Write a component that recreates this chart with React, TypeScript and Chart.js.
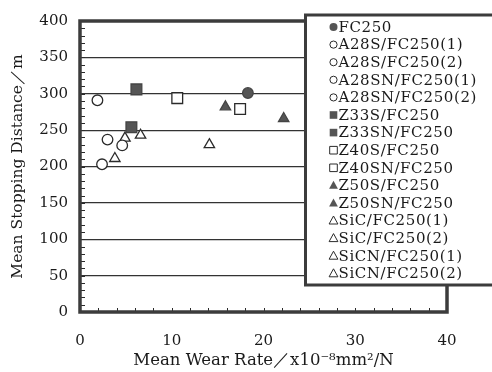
import React, { useEffect, useRef } from 'react';
import { Chart, registerables } from 'chart.js';

Chart.register(...registerables);

const seriesNames = [
  'FC250',
  'A28S/FC250(1)',
  'A28S/FC250(2)',
  'A28SN/FC250(1)',
  'A28SN/FC250(2)',
  'Z33S/FC250',
  'Z33SN/FC250',
  'Z40S/FC250',
  'Z40SN/FC250',
  'Z50S/FC250',
  'Z50SN/FC250',
  'SiC/FC250(1)',
  'SiC/FC250(2)',
  'SiCN/FC250(1)',
  'SiCN/FC250(2)',
];

// Mean wear rate (x10^-8 mm^2/N)
const wearRate = [18.3, 1.9, 2.4, 3.0, 4.6, 6.15, 5.6, 10.6, 17.45, 15.85, 22.2, 3.8, 4.9, 6.6, 14.1];
// Mean stopping distance (m)
const stoppingDistance = [301, 291, 203, 237, 229, 306, 254, 294, 279, 282, 266, 211, 239, 243, 230];

const xTicks = [0, 10, 20, 30, 40];
const yTicks = [0, 50, 100, 150, 200, 250, 300, 350, 400];

// marker kind per series: shape + filled
const markerShape = ['circle', 'circle', 'circle', 'circle', 'circle', 'rect', 'rect', 'rect', 'rect', 'triangle', 'triangle', 'triangle', 'triangle', 'triangle', 'triangle'];
const markerFilled = [true, false, false, false, false, true, true, false, false, true, true, false, false, false, false];

const FONT = '"DejaVu Serif", "Liberation Serif", serif';
const INK = '#2a2a2a';
const FILL = '#555555';

function radiusFor(shape: string) {
  if (shape === 'rect') return 7.6;
  if (shape === 'triangle') return 6;
  return 5.3;
}

const framePlugin = {
  id: 'frameAndLegend',
  afterDraw(chart: any) {
    const ctx: CanvasRenderingContext2D = chart.ctx;
    const { left, top, right, bottom } = chart.chartArea;
    const xs = chart.scales.x;
    const ys = chart.scales.y;
    ctx.save();
    // minor ticks
    ctx.strokeStyle = INK;
    ctx.lineWidth = 1;
    for (let v = 0; v <= 400; v += 10) {
      const py = Math.round(ys.getPixelForValue(v)) + 0.5;
      ctx.beginPath();
      ctx.moveTo(left, py);
      ctx.lineTo(left + 5, py);
      ctx.stroke();
    }
    for (let v = 0; v <= 40; v += 2) {
      const px = Math.round(xs.getPixelForValue(v)) + 0.5;
      ctx.beginPath();
      ctx.moveTo(px, bottom);
      ctx.lineTo(px, bottom - 4);
      ctx.stroke();
    }
    // frame
    ctx.strokeStyle = '#3c3c3c';
    ctx.lineWidth = 3.5;
    ctx.strokeRect(left, top, right - left, bottom - top);

    // legend box
    const lx = 305.5;
    const ly = 15;
    const lw = 200;
    const lh = 270;
    ctx.fillStyle = '#ffffff';
    ctx.fillRect(lx, ly, lw, lh);
    ctx.strokeStyle = '#3c3c3c';
    ctx.lineWidth = 3;
    ctx.strokeRect(lx, ly, lw, lh);

    ctx.font = '15px ' + FONT;
    (ctx as any).letterSpacing = '0.6px';
    ctx.textBaseline = 'middle';
    ctx.textAlign = 'left';
    const step = 17.6;
    seriesNames.forEach((name, i) => {
      const cy = 27 + i * step;
      const cx = 333.5;
      const shape = markerShape[i];
      const filled = markerFilled[i];
      ctx.beginPath();
      if (shape === 'circle') {
        ctx.arc(cx, cy, filled ? 4 : 3.6, 0, Math.PI * 2);
      } else if (shape === 'rect') {
        ctx.rect(cx - 3.8, cy - 3.8, 7.6, 7.6);
      } else {
        ctx.moveTo(cx, cy - 4.6);
        ctx.lineTo(cx + 4.4, cy + 3.4);
        ctx.lineTo(cx - 4.4, cy + 3.4);
        ctx.closePath();
      }
      if (filled) {
        ctx.fillStyle = FILL;
        ctx.fill();
      } else {
        ctx.strokeStyle = INK;
        ctx.lineWidth = 1;
        ctx.stroke();
      }
      ctx.fillStyle = '#1a1a1a';
      ctx.fillText(name, 338.5, cy + 1);
    });
    ctx.restore();
  },
};

export default function App() {
  const ref = useRef<HTMLCanvasElement | null>(null);
  useEffect(() => {
    if (!ref.current) return;
    const datasets = seriesNames.map((name, i) => ({
      label: name,
      data: [{ x: wearRate[i], y: stoppingDistance[i] }],
      pointStyle: markerShape[i],
      pointRadius: radiusFor(markerShape[i]),
      pointBackgroundColor: markerFilled[i] ? FILL : '#ffffff',
      pointBorderColor: markerFilled[i] ? '#444444' : INK,
      pointBorderWidth: 1.3,
      showLine: false,
    }));
    const chart = new Chart(ref.current, {
      type: 'scatter',
      data: { datasets },
      options: {
        animation: false,
        responsive: false,
        layout: { padding: { top: 16, right: 45, left: 0, bottom: 0 } },
        plugins: { legend: { display: false }, tooltip: { enabled: false } },
        scales: {
          x: {
            type: 'linear',
            min: 0,
            max: 40,
            afterBuildTicks: (s: any) => {
              s.ticks = xTicks.map((v) => ({ value: v }));
            },
            afterFit: (s: any) => {
              s.height = 60;
            },
            grid: { display: false, drawTicks: false },
            border: { display: false },
            ticks: {
              color: '#1a1a1a',
              padding: 20,
              font: { family: FONT, size: 15 },
              maxRotation: 0,
            },
            title: {
              display: true,
              text: 'Mean Wear Rate／x10⁻⁸mm²/N',
              color: '#1a1a1a',
              font: { family: FONT, size: 16.5 },
              padding: { top: 0, bottom: 1 },
            },
          },
          y: {
            type: 'linear',
            min: 0,
            max: 400,
            afterBuildTicks: (s: any) => {
              s.ticks = yTicks.map((v) => ({ value: v }));
            },
            afterFit: (s: any) => {
              s.width = 80;
            },
            grid: { display: true, color: '#333333', lineWidth: 1.2, drawTicks: false },
            border: { display: false },
            ticks: {
              color: '#1a1a1a',
              padding: 12,
              font: { family: FONT, size: 15 },
            },
            title: {
              display: true,
              text: 'Mean Stopping Distance／m',
              color: '#1a1a1a',
              font: { family: FONT, size: 15.5 },
              padding: { top: 9, bottom: 0 },
            },
          },
        },
      },
      plugins: [framePlugin],
    });
    return () => chart.destroy();
  }, []);
  return (
    <div style={{ position: 'absolute', left: 0, top: 0, width: 492, height: 372, background: '#fff' }}>
      <canvas ref={ref} width={492} height={372} style={{ display: 'block' }} />
    </div>
  );
}
